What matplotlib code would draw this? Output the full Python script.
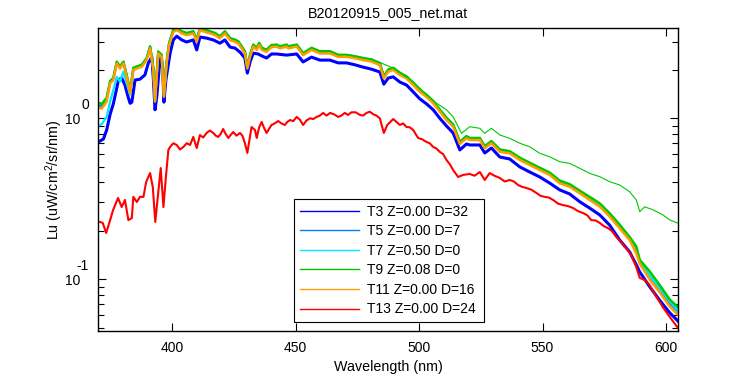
import matplotlib
matplotlib.use('Agg')
from matplotlib import pyplot as plt
from matplotlib.ticker import FixedLocator, FixedFormatter, LogLocator, NullFormatter

plt.rcParams['font.family'] = ['Liberation Sans', 'DejaVu Sans']
plt.rcParams['mathtext.fontset'] = 'custom'
plt.rcParams['mathtext.rm'] = 'Liberation Sans'
plt.rcParams['mathtext.it'] = 'Liberation Sans:italic'
plt.rcParams['mathtext.bf'] = 'Liberation Sans:bold'

TITLE = 'B20120915_005_net.mat'
X_LABEL = 'Wavelength (nm)'
Y_LABEL = 'Lu (uW/cm$^2$/sr/nm)'
X_TICKS = [400, 450, 500, 550, 600]
Y_TICKS = [0.1, 1.0]
Y_TICK_BASE = ['10', '10']
Y_TICK_EXP = ['-1', '0']

# Wavelength grid shared by the T5 / T7 / T9 / T11 spectra
wl_cluster = [370.7, 371.4, 373.4, 374.8, 376.1, 377.5, 378.8, 380.2, 381.5, 382.9,
              384.2, 385.6, 387.6, 389.6, 391.0, 392.3, 393.0, 394.3, 395.7, 396.6,
              397.7, 398.7, 400.4, 401.8, 403.8, 405.8, 408.5, 409.9, 411.2, 413.2,
              415.3, 417.3, 419.3, 421.3, 423.4, 425.4, 426.7, 428.1, 429.4, 430.4,
              431.5, 432.8, 434.2, 435.2, 436.3, 438.2, 440.2, 442.3, 443.6, 446.3,
              447.0, 450.4, 453.0, 456.4, 459.8, 463.9, 467.2, 470.6, 474.0, 477.3,
              480.7, 484.1, 485.7, 487.5, 489.5, 492.2, 494.9, 497.6, 500.3, 503.0,
              505.7, 508.4, 511.1, 513.8, 516.5, 519.2, 520.5, 524.6, 526.6, 529.3,
              532.7, 536.7, 540.8, 544.8, 548.9, 552.9, 557.0, 561.0, 565.1, 569.1,
              573.2, 577.2, 581.3, 585.3, 588.0, 589.4, 593.4, 597.5, 601.5, 604.9]

lu_t11 = [1.16, 1.15, 1.27, 1.65, 1.73, 2.19, 2.04, 2.19, 1.81, 1.43,
          2.00, 2.04, 2.09, 2.30, 2.72, 2.00, 1.27, 2.53, 2.41, 1.36,
          2.19, 2.85, 3.44, 3.54, 3.37, 3.29, 3.37, 2.99, 3.54, 3.45,
          3.37, 3.29, 3.14, 3.37, 3.06, 2.99, 2.92, 2.72, 2.53, 2.04,
          2.41, 2.79, 2.66, 2.85, 2.66, 2.59, 2.77, 2.79, 2.72, 2.79,
          2.72, 2.79, 2.47, 2.66, 2.53, 2.53, 2.41, 2.41, 2.36, 2.30,
          2.25, 2.14, 1.77, 1.95, 2.00, 1.86, 1.77, 1.61, 1.46, 1.36,
          1.24, 1.10, 0.976, 0.887, 0.693, 0.751, 0.733, 0.733, 0.651, 0.700,
          0.620, 0.606, 0.551, 0.513, 0.477, 0.445, 0.395, 0.376, 0.342, 0.311,
          0.283, 0.245, 0.207, 0.175, 0.145, 0.125, 0.100, 0.083, 0.068, 0.060]

lu_t9 = [1.24, 1.23, 1.34, 1.70, 1.78, 2.25, 2.10, 2.25, 1.86, 1.48,
         2.06, 2.10, 2.15, 2.36, 2.80, 2.06, 1.31, 2.60, 2.48, 1.40,
         2.25, 2.93, 3.54, 3.64, 3.47, 3.39, 3.47, 3.08, 3.64, 3.55,
         3.47, 3.39, 3.23, 3.47, 3.15, 3.08, 3.01, 2.80, 2.61, 2.10,
         2.48, 2.87, 2.74, 2.94, 2.74, 2.67, 2.85, 2.87, 2.80, 2.87,
         2.80, 2.87, 2.54, 2.74, 2.61, 2.61, 2.48, 2.48, 2.43, 2.37,
         2.32, 2.20, 1.82, 2.01, 2.06, 1.92, 1.82, 1.66, 1.50, 1.40,
         1.28, 1.13, 1.01, 0.915, 0.715, 0.775, 0.755, 0.755, 0.671, 0.722,
         0.640, 0.625, 0.569, 0.530, 0.493, 0.460, 0.410, 0.390, 0.355, 0.325,
         0.296, 0.257, 0.218, 0.183, 0.160, 0.132, 0.112, 0.092, 0.075, 0.067]

lu_t5 = [1.20, 1.19, 1.31, 1.69, 1.77, 2.23, 2.08, 2.23, 1.85, 1.46,
         2.04, 2.08, 2.13, 2.35, 2.77, 2.04, 1.30, 2.58, 2.46, 1.39,
         2.23, 2.91, 3.51, 3.61, 3.44, 3.36, 3.44, 3.05, 3.61, 3.52,
         3.44, 3.36, 3.20, 3.44, 3.12, 3.05, 2.98, 2.77, 2.58, 2.08,
         2.46, 2.85, 2.71, 2.91, 2.71, 2.64, 2.83, 2.85, 2.77, 2.85,
         2.77, 2.85, 2.52, 2.71, 2.58, 2.58, 2.46, 2.46, 2.41, 2.35,
         2.30, 2.18, 1.81, 1.99, 2.04, 1.90, 1.81, 1.64, 1.49, 1.39,
         1.26, 1.12, 0.996, 0.905, 0.707, 0.766, 0.748, 0.748, 0.664, 0.714,
         0.632, 0.618, 0.562, 0.523, 0.487, 0.454, 0.403, 0.384, 0.349, 0.317,
         0.289, 0.250, 0.211, 0.179, 0.149, 0.129, 0.104, 0.087, 0.071, 0.063]

lu_t7 = [0.909, 0.92, 1.02, 1.27, 1.50, 1.81, 1.69, 1.95, 1.65, 1.40,
         1.96, 2.09, 2.14, 2.36, 2.78, 2.05, 1.29, 2.59, 2.47, 1.38,
         2.24, 2.92, 3.53, 3.63, 3.46, 3.38, 3.46, 3.07, 3.63, 3.54,
         3.46, 3.38, 3.22, 3.46, 3.14, 3.07, 3.00, 2.79, 2.60, 2.09,
         2.47, 2.86, 2.73, 2.92, 2.73, 2.66, 2.84, 2.86, 2.79, 2.86,
         2.79, 2.86, 2.53, 2.73, 2.60, 2.60, 2.47, 2.47, 2.42, 2.36,
         2.31, 2.20, 1.82, 2.00, 2.05, 1.91, 1.82, 1.65, 1.50, 1.40,
         1.27, 1.13, 1.00, 0.91, 0.711, 0.771, 0.752, 0.752, 0.668, 0.718,
         0.636, 0.622, 0.565, 0.526, 0.490, 0.457, 0.406, 0.386, 0.351, 0.320,
         0.291, 0.252, 0.213, 0.180, 0.152, 0.130, 0.106, 0.088, 0.073, 0.064]

# T3 (lowest of the bright group)
wl_t3 = [370.7, 372.1, 373.4, 374.8, 376.1, 376.9, 378.2, 379.5, 380.8, 382.2,
         382.9, 383.6, 384.9, 386.9, 388.9, 390.3, 391.7, 392.3, 393.0, 393.7,
         394.7, 395.4, 396.1, 396.6, 397.4, 399.1, 400.4, 401.8, 403.8, 405.8,
         408.5, 409.9, 411.2, 413.9, 416.6, 419.3, 421.3, 423.4, 425.4, 427.4,
         429.4, 430.4, 431.5, 432.8, 434.8, 436.3, 438.2, 440.2, 442.3, 446.3,
         450.4, 453.0, 456.4, 459.8, 463.9, 467.2, 470.6, 474.0, 477.3, 480.7,
         484.1, 485.7, 487.5, 489.5, 492.2, 494.9, 497.6, 500.3, 503.0, 505.7,
         508.4, 511.1, 513.8, 516.5, 519.2, 520.5, 524.6, 526.6, 529.3, 532.7,
         536.7, 540.8, 544.8, 548.9, 552.9, 557.0, 561.0, 565.1, 569.1, 573.2,
         577.2, 581.3, 585.3, 588.0, 589.4, 593.4, 597.5, 601.5, 604.9]
lu_t3 = [0.723, 0.744, 0.846, 1.06, 1.23, 1.40, 1.73, 1.78, 1.61, 1.34,
         1.24, 1.26, 1.73, 1.75, 1.86, 2.21, 2.40, 1.78, 1.13, 1.36,
         2.05, 2.40, 2.08, 1.26, 1.73, 2.54, 3.07, 3.24, 3.07, 2.98,
         3.07, 2.66, 3.20, 3.15, 3.07, 2.93, 3.07, 2.77, 2.73, 2.58,
         2.37, 1.91, 2.24, 2.54, 2.51, 2.44, 2.37, 2.51, 2.51, 2.47,
         2.51, 2.24, 2.40, 2.30, 2.30, 2.21, 2.21, 2.15, 2.08, 2.02,
         1.94, 1.63, 1.78, 1.81, 1.68, 1.61, 1.46, 1.32, 1.23, 1.13,
         1.00, 0.896, 0.811, 0.636, 0.693, 0.683, 0.683, 0.609, 0.654, 0.575,
         0.559, 0.499, 0.464, 0.432, 0.396, 0.359, 0.339, 0.303, 0.277, 0.251,
         0.217, 0.175, 0.148, 0.123, 0.111, 0.090, 0.074, 0.062, 0.055]

# T13 (low, red)
wl_t13 = [370.7, 371.8, 373.2, 374.8, 376.0, 378.0, 379.5, 380.8, 382.2, 383.6,
          384.2, 385.6, 386.9, 388.3, 389.4, 391.0, 392.1, 393.1, 394.3, 395.3,
          396.4, 397.4, 398.4, 399.1, 400.4, 401.8, 403.1, 404.5, 405.8, 407.2,
          408.5, 409.9, 411.2, 412.5, 413.9, 415.2, 416.6, 417.6, 418.6, 419.6,
          420.6, 421.6, 422.7, 423.7, 424.7, 426.0, 427.4, 428.4, 429.4, 430.4,
          432.1, 433.5, 434.2, 435.2, 436.2, 437.2, 438.2, 439.2, 440.2, 441.5,
          442.9, 444.2, 445.6, 446.6, 447.7, 449.0, 450.4, 451.7, 453.0, 454.4,
          455.8, 457.1, 458.5, 459.8, 461.1, 462.5, 463.9, 465.5, 467.2, 468.5,
          469.9, 471.2, 472.6, 474.3, 476.0, 477.3, 478.7, 480.0, 481.4, 482.7,
          484.1, 485.7, 487.1, 489.5, 490.8, 492.2, 493.5, 494.9, 496.2, 497.6,
          498.6, 499.6, 501.3, 503.0, 504.3, 505.7, 507.0, 508.4, 509.7, 511.1,
          512.4, 513.8, 515.8, 517.8, 520.5, 522.5, 524.6, 526.6, 528.6, 530.5,
          532.7, 534.7, 536.7, 538.4, 540.1, 541.8, 543.5, 545.5, 547.5, 549.2,
          550.9, 552.6, 554.3, 556.3, 558.3, 560.3, 562.4, 564.4, 566.4, 568.1,
          569.8, 571.5, 573.2, 574.8, 576.5, 578.2, 579.9, 581.6, 583.3, 584.6,
          586.0, 588.0, 589.4, 591.4, 593.4, 596.1, 598.8, 601.5, 604.9]
lu_t13 = [0.227, 0.224, 0.194, 0.233, 0.269, 0.320, 0.281, 0.311, 0.233, 0.240,
          0.325, 0.302, 0.325, 0.325, 0.402, 0.457, 0.373, 0.227, 0.344, 0.491,
          0.281, 0.432, 0.636, 0.664, 0.700, 0.683, 0.640, 0.664, 0.700, 0.683,
          0.766, 0.654, 0.787, 0.760, 0.811, 0.840, 0.811, 0.780, 0.766, 0.800,
          0.858, 0.800, 0.755, 0.790, 0.822, 0.780, 0.811, 0.780, 0.703, 0.609,
          0.883, 0.846, 0.755, 0.880, 0.950, 0.870, 0.811, 0.860, 0.909, 0.930,
          0.962, 0.930, 0.909, 0.950, 0.976, 0.960, 1.02, 0.980, 0.909, 0.970,
          1.00, 0.990, 1.02, 1.04, 1.08, 1.04, 1.08, 1.06, 1.02, 1.04,
          1.08, 1.05, 1.09, 1.09, 1.05, 1.04, 1.08, 1.10, 1.06, 1.04,
          1.00, 0.811, 0.909, 0.990, 0.950, 0.909, 0.930, 0.883, 0.880, 0.846,
          0.800, 0.755, 0.740, 0.713, 0.700, 0.664, 0.650, 0.618, 0.600, 0.551,
          0.520, 0.477, 0.432, 0.445, 0.451, 0.440, 0.464, 0.414, 0.457, 0.440,
          0.426, 0.405, 0.414, 0.405, 0.385, 0.375, 0.369, 0.360, 0.344, 0.330,
          0.325, 0.322, 0.311, 0.295, 0.289, 0.285, 0.277, 0.265, 0.258, 0.250,
          0.233, 0.232, 0.224, 0.214, 0.208, 0.199, 0.183, 0.172, 0.159, 0.152,
          0.141, 0.119, 0.102, 0.099, 0.092, 0.078, 0.067, 0.0585, 0.0498]

# Single high green spectrum that splits away beyond ~490 nm
wl_high = [480.7, 489.5, 497.6, 503.0, 507.1, 511.1, 513.8, 517.2, 520.5, 524.6,
           526.6, 529.3, 532.7, 536.7, 540.8, 544.8, 548.9, 552.9, 557.0, 561.0,
           565.1, 569.1, 573.2, 577.2, 581.3, 585.3, 588.0, 589.4, 591.4, 594.8,
           598.8, 601.5, 604.9]
lu_high = [2.34, 2.05, 1.69, 1.40, 1.24, 1.13, 1.02, 0.807, 0.887, 0.867,
           0.807, 0.867, 0.788, 0.751, 0.700, 0.666, 0.606, 0.577, 0.537, 0.525,
           0.489, 0.455, 0.434, 0.404, 0.385, 0.350, 0.311, 0.263, 0.282, 0.270,
           0.251, 0.234, 0.223]

LABELS = ['T3 Z=0.00 D=32', 'T5 Z=0.00 D=7', 'T7 Z=0.50 D=0',
          'T9 Z=0.08 D=0', 'T11 Z=0.00 D=16', 'T13 Z=0.00 D=24']
COLORS = ['#0000ff', '#0080ff', '#00e8ff', '#00c800', '#ff9c00', '#ff0000']

fig = plt.figure(figsize=(7.5, 3.75), dpi=100)
ax = fig.add_axes([0.1307, 0.1173, 0.7733, 0.808])

series = [(wl_t3, lu_t3, 2.2), (wl_cluster, lu_t5, 1.6), (wl_cluster, lu_t7, 1.6),
          (wl_cluster, lu_t9, 1.8), (wl_cluster, lu_t11, 1.8), (wl_t13, lu_t13, 1.5)]
lines = []
for (wl, lu, lw), lab, col in zip(series, LABELS, COLORS):
    ln, = ax.plot(wl, lu, color=col, lw=lw, label=lab)
    lines.append(ln)
ax.plot(wl_high, lu_high, color=COLORS[3], lw=0.8)

ax.set_yscale('log')
ax.set_xlim(369.9, 604.9)
ax.set_ylim(0.0477, 3.64)
ax.set_xticks(X_TICKS)

# MATLAB-like log labels: "10" with a raised, full-size exponent
ax.yaxis.set_major_locator(FixedLocator(Y_TICKS))
ax.yaxis.set_major_formatter(FixedFormatter(Y_TICK_BASE))
ax.yaxis.set_minor_locator(LogLocator(base=10, subs=range(2, 10)))
ax.yaxis.set_minor_formatter(NullFormatter())
for val, ex in zip(Y_TICKS, Y_TICK_EXP):
    ax.annotate(ex, xy=(0, val), xycoords=('axes fraction', 'data'),
                xytext=(-6.5, 9.5), textcoords='offset points',
                ha='right', va='center', fontsize=10)

ax.tick_params(which='both', direction='in', top=True, right=True,
               labelsize=10, width=0.8)
ax.tick_params(which='major', length=5.5)
ax.tick_params(axis='y', which='major', pad=13)
ax.tick_params(axis='x', which='major', pad=7)
ax.tick_params(which='minor', length=4)
for sp in ax.spines.values():
    sp.set_linewidth(1.0)

ax.set_title(TITLE, fontsize=10.3, pad=8)
ax.set_xlabel(X_LABEL, fontsize=10.3, labelpad=4)
ax.set_ylabel(Y_LABEL, fontsize=10.3, labelpad=0)

leg = ax.legend(lines, LABELS, loc='lower left',
                bbox_to_anchor=(0.338, 0.0297, 0.3275, 0.4027), mode='expand',
                fontsize=10, fancybox=False, edgecolor='black', framealpha=1,
                handlelength=4.3, handletextpad=0.55, labelspacing=0.4,
                borderaxespad=0)
leg.get_frame().set_linewidth(0.8)
for ln in leg.get_lines():
    ln.set_linewidth(1.0)

fig.savefig('out.png', dpi=100)
